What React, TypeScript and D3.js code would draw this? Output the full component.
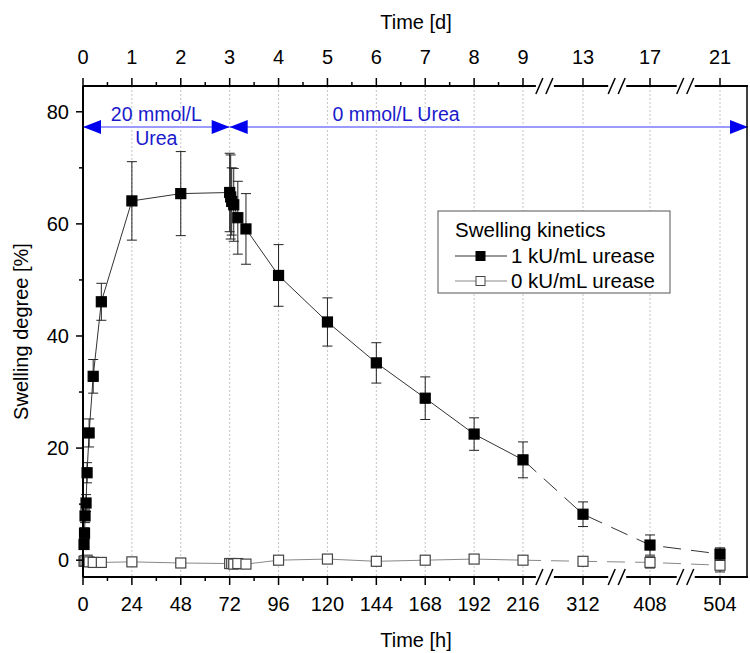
import React from "react";
import * as d3 from "d3";

// swelling kinetics
const hoursOn = [0.5, 0.75, 1, 1.5, 2, 3, 5, 9, 24, 48, 72, 72.5, 73, 74, 76, 80, 96, 120, 144, 168, 192, 216, 312, 408, 504];
const swellOn = [2.8, 4.8, 7.9, 10.2, 15.6, 22.7, 32.8, 46.1, 64.1, 65.4, 65.6, 64.8, 64.0, 63.4, 61.1, 59.1, 50.8, 42.5, 35.2, 28.9, 22.5, 17.9, 8.2, 2.7, 1.1];
const errOn = [0.8, 1.0, 1.2, 1.5, 1.8, 2.5, 3.0, 3.3, 7.0, 7.5, 7.0, 7.5, 6.0, 6.5, 6.5, 6.3, 5.5, 4.3, 3.6, 3.8, 2.9, 3.2, 2.2, 1.8, 1.1];

const hoursOff = [0.5, 1, 2, 3, 5, 9, 24, 48, 72, 73, 74, 76, 80, 96, 120, 144, 168, 192, 216, 312, 408, 504];
const swellOff = [-0.2, -0.1, 0.0, -0.3, -0.4, -0.4, -0.3, -0.5, -0.6, -0.6, -0.7, -0.6, -0.7, 0.0, 0.2, -0.2, 0.0, 0.2, 0.0, -0.2, -0.4, -0.9];
const errOff = [0.5, 0.5, 0.5, 0.5, 0.5, 0.5, 0.6, 0.6, 0.6, 0.6, 0.6, 0.6, 0.6, 0.6, 0.6, 0.6, 0.7, 0.7, 0.7, 0.8, 1.0, 1.2];

const hourTicks = [0, 24, 48, 72, 96, 120, 144, 168, 192, 216, 312, 408, 504];
const hourMinor = [12, 36, 60, 84, 108, 132, 156, 180, 204];
const dayLabels = ["0", "1", "2", "3", "4", "5", "6", "7", "8", "9", "13", "17", "21"];
const yTicks = [0, 20, 40, 60, 80];
const yMinor = [10, 30, 50, 70];
const breakHours = [251, 361, 457];
const ureaPhases = [
  { from: 0, to: 72, label: ["20 mmol/L", "Urea"] },
  { from: 72, to: 540, label: ["0 mmol/L Urea"] },
];
const seriesNames = ["1 kU/mL urease", "0 kU/mL urease"];

const W = 750;
const H = 653;
const FONT = "'Liberation Sans', Arial, sans-serif";

const x = d3.scaleLinear().domain([0, 216, 312, 408, 504, 540]).range([83, 523, 583, 650, 720, 748]);
const y = d3.scaleLinear().domain([-3, 84.6]).range([577, 86]);
const top = y.range()[1];
const bottom = y.range()[0];
const left = x.range()[0];
const right = x.range()[x.range().length - 1];

type Pt = { t: number; v: number; e: number };
const toPts = (t: number[], v: number[], e: number[]): Pt[] => t.map((h, i) => ({ t: h, v: v[i], e: e[i] }));
const onPts = toPts(hoursOn, swellOn, errOn);
const offPts = toPts(hoursOff, swellOff, errOff);

const line = d3.line<Pt>().x((d) => x(d.t)).y((d) => y(d.v));

const Series = ({ pts, filled, stroke }: { pts: Pt[]; filled: boolean; stroke: string }) => {
  const solid = pts.filter((d) => d.t <= 216);
  const dashed = pts.filter((d) => d.t >= 216);
  const s = 10;
  return (
    <g>
      <path d={line(solid) || ""} fill="none" stroke={stroke} strokeWidth={1} />
      <path d={line(dashed) || ""} fill="none" stroke={stroke} strokeWidth={1} strokeDasharray="18,10" />
      {pts.map((d, i) => (
        <g key={i} stroke="#222" strokeWidth={1}>
          <line x1={x(d.t)} x2={x(d.t)} y1={y(d.v - d.e)} y2={y(d.v + d.e)} />
          <line x1={x(d.t) - 5} x2={x(d.t) + 5} y1={y(d.v + d.e)} y2={y(d.v + d.e)} />
          <line x1={x(d.t) - 5} x2={x(d.t) + 5} y1={y(d.v - d.e)} y2={y(d.v - d.e)} />
        </g>
      ))}
      {pts.map((d, i) => (
        <rect
          key={i}
          x={x(d.t) - s / 2}
          y={y(d.v) - s / 2}
          width={s}
          height={s}
          fill={filled ? "#000" : "#fff"}
          stroke={filled ? "#000" : "#444"}
          strokeWidth={1.2}
        />
      ))}
    </g>
  );
};

const BreakMark = ({ cx, cy }: { cx: number; cy: number }) => (
  <g>
    <rect x={cx - 9} y={cy - 2} width={18} height={4} fill="#fff" />
    <line x1={cx - 9} y1={cy + 8} x2={cx - 2} y2={cy - 8} stroke="#000" strokeWidth={1.5} />
    <line x1={cx + 1} y1={cy + 8} x2={cx + 8} y2={cy - 8} stroke="#000" strokeWidth={1.5} />
  </g>
);

const Arrow = ({ x1, x2, yy }: { x1: number; x2: number; yy: number }) => (
  <g>
    <line x1={x1} x2={x2} y1={yy} y2={yy} stroke="#9a9aff" strokeWidth={2} />
    <path d={`M${x1},${yy} L${x1 + 18},${yy - 7} L${x1 + 18},${yy + 7} Z`} fill="#0000ee" />
    <path d={`M${x2},${yy} L${x2 - 18},${yy - 7} L${x2 - 18},${yy + 7} Z`} fill="#0000ee" />
  </g>
);

export default function App() {
  const arrowY = 127;
  const legX = 438;
  const legY = 211;
  return (
    <svg
      width={W}
      height={H}
      style={{ position: "absolute", left: 0, top: 0, background: "#fff" }}
      fontFamily={FONT}
    >
      {/* vertical grid */}
      {hourTicks.map((h) => (
        <line key={h} x1={x(h)} x2={x(h)} y1={top} y2={bottom} stroke="#c4c4c4" strokeDasharray="2,2" />
      ))}

      {/* urea phases */}
      {ureaPhases.map((p, i) => {
        const x1 = x(p.from);
        const x2 = Math.min(x(p.to), right);
        const cx = i === 0 ? (x1 + x2) / 2 : 396;
        return (
          <g key={i}>
            <Arrow x1={x1} x2={x2} yy={arrowY} />
            <text x={cx} y={arrowY - 6} fill="#1a1acc" fontSize={19.5} textAnchor="middle">
              {p.label[0]}
            </text>
            {p.label[1] && (
              <text x={cx} y={arrowY + 18} fill="#1a1acc" fontSize={19.5} textAnchor="middle">
                {p.label[1]}
              </text>
            )}
          </g>
        );
      })}

      <Series pts={offPts} filled={false} stroke="#888" />
      <Series pts={onPts} filled={true} stroke="#333" />

      {/* frame */}
      <line x1={left} x2={left} y1={top} y2={bottom} stroke="#000" strokeWidth={2} />
      <line x1={right - 1} x2={right - 1} y1={top} y2={bottom} stroke="#000" strokeWidth={1.5} />
      <line x1={left} x2={right} y1={top} y2={top} stroke="#000" strokeWidth={2} />
      <line x1={left} x2={right} y1={bottom} y2={bottom} stroke="#000" strokeWidth={2} />

      {/* bottom axis */}
      {hourTicks.map((h) => (
        <g key={h}>
          <line x1={x(h)} x2={x(h)} y1={bottom} y2={bottom + 8} stroke="#000" strokeWidth={1.5} />
          <text x={x(h)} y={611} fontSize={20} textAnchor="middle">
            {h}
          </text>
        </g>
      ))}
      {hourMinor.map((h) => (
        <line key={h} x1={x(h)} x2={x(h)} y1={bottom} y2={bottom + 4} stroke="#000" strokeWidth={1.5} />
      ))}
      <text x={416} y={647} fontSize={20} textAnchor="middle">
        Time [h]
      </text>

      {/* top axis */}
      {hourTicks.map((h, i) => (
        <g key={h}>
          <line x1={x(h)} x2={x(h)} y1={top} y2={top - 8} stroke="#000" strokeWidth={1.5} />
          <text x={x(h)} y={64} fontSize={20} textAnchor="middle">
            {dayLabels[i]}
          </text>
        </g>
      ))}
      {hourMinor.map((h) => (
        <line key={h} x1={x(h)} x2={x(h)} y1={top} y2={top - 4} stroke="#000" strokeWidth={1.5} />
      ))}
      <text x={416} y={29} fontSize={20} textAnchor="middle">
        Time [d]
      </text>

      {breakHours.map((h) => (
        <g key={h}>
          <BreakMark cx={x(h)} cy={top} />
          <BreakMark cx={x(h)} cy={bottom} />
        </g>
      ))}

      {/* y axis */}
      {yTicks.map((v) => (
        <g key={v}>
          <line x1={left} x2={left - 7} y1={y(v)} y2={y(v)} stroke="#000" strokeWidth={1.5} />
          <text x={left - 14} y={y(v) + 7} fontSize={20} textAnchor="end">
            {v}
          </text>
        </g>
      ))}
      {yMinor.map((v) => (
        <line key={v} x1={left} x2={left - 4} y1={y(v)} y2={y(v)} stroke="#000" strokeWidth={1.5} />
      ))}
      <text transform={`translate(28,${(top + bottom) / 2}) rotate(-90)`} fontSize={20} textAnchor="middle">
        Swelling degree [%]
      </text>

      {/* legend */}
      <g>
        <rect x={legX} y={legY} width={232} height={82} fill="#fff" stroke="#555" strokeWidth={1} />
        <text x={legX + 17} y={legY + 26} fontSize={20.5}>
          Swelling kinetics
        </text>
        {seriesNames.map((name, i) => {
          const ly = legY + 45 + i * 25;
          const filled = i === 0;
          return (
            <g key={name}>
              <line x1={legX + 17} x2={legX + 69} y1={ly} y2={ly} stroke={filled ? "#333" : "#888"} />
              <rect
                x={legX + 38}
                y={ly - 4.5}
                width={9}
                height={9}
                fill={filled ? "#000" : "#fff"}
                stroke={filled ? "#000" : "#444"}
              />
              <text x={legX + 73} y={ly + 7} fontSize={20.5}>
                {name}
              </text>
            </g>
          );
        })}
      </g>
    </svg>
  );
}
